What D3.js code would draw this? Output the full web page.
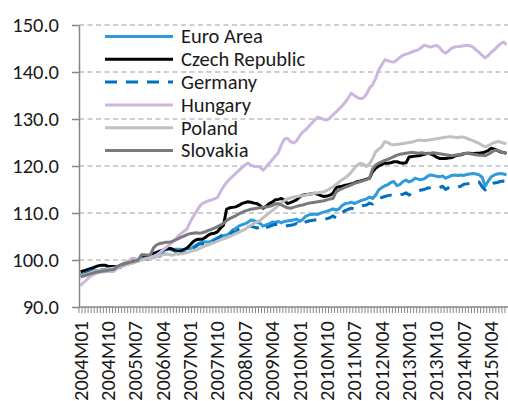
<!DOCTYPE html>
<html>
<head>
<meta charset="utf-8">
<script src="https://cdn.jsdelivr.net/npm/d3@7"></script>
<style>
  html, body { margin: 0; padding: 0; background: #fff; }
  svg { display: block; }
  text { font-family: Carlito, Calibri, Lato, sans-serif; fill: #1a1a1a; }
</style>
</head>
<body>
<div id="grafica"></div>
<script>
// Indices de precios, 2004M01 - 2015M09 (mensual)

const months = []
for (let yr = 2004; yr <= 2015; yr++) {
  for (let m = 1; m <= 12; m++) {
    if (yr === 2015 && m > 9) break
    months.push(yr + "M" + (m < 10 ? "0" + m : m))
  }
}

const tickLabels = ["2004M01","2004M10","2005M07","2006M04","2007M01","2007M10","2008M07","2009M04",
  "2010M01","2010M10","2011M07","2012M04","2013M01","2013M10","2014M07","2015M04"]

const yTicks = [90, 100, 110, 120, 130, 140, 150]

const seriesNames = ["Euro Area", "Czech Republic", "Germany", "Hungary", "Poland", "Slovakia"]

const euroArea = [
  96.8, 97.0, 97.3, 97.6, 97.8, 97.8, 97.7, 97.8, 98.0, 98.3, 98.3, 98.5,
  98.2, 98.5, 99.0, 99.4, 99.6, 99.8, 99.7, 99.9, 100.4, 100.7, 100.5, 100.8,
  100.5, 100.9, 101.3, 101.9, 102.2, 102.3, 102.1, 102.3, 102.3, 102.3, 102.2, 102.6,
  102.3, 102.7, 103.2, 103.6, 103.8, 103.9, 103.8, 104.0, 104.4, 104.7, 105.0, 105.2,
  105.3, 105.7, 106.4, 106.7, 107.2, 107.5, 107.7, 108.0, 108.5, 108.4, 108.0, 107.8,
  107.2, 107.5, 107.7, 108.1, 108.0, 108.2, 107.9, 108.2, 108.3, 108.4, 108.5, 108.7,
  108.2, 108.6, 109.3, 109.6, 109.7, 109.8, 109.7, 110.0, 110.2, 110.4, 110.6, 110.9,
  110.6, 110.9, 111.6, 112.0, 112.1, 112.3, 112.0, 112.3, 112.6, 112.8, 113.0, 113.4,
  113.1, 113.8, 114.9, 115.4, 115.8, 116.0, 116.5, 116.7, 115.8, 116.1, 116.7, 117.0,
  116.6, 116.9, 117.4, 117.2, 117.1, 117.3, 117.8, 118.1, 118.0, 117.8, 117.7, 117.9,
  117.4, 117.7, 118.0, 118.1, 118.0, 118.1, 118.0, 118.2, 118.3, 118.4, 118.3, 118.1,
  117.6, 115.7, 116.8, 117.7, 118.1, 118.3, 118.4, 118.3, 118.1
]

const czechRepublic = [
  97.5, 97.7, 97.9, 98.1, 98.3, 98.6, 98.8, 98.9, 98.9, 98.7, 98.6, 98.6,
  98.5, 98.8, 99.1, 99.4, 99.6, 99.8, 100.0, 100.1, 100.4, 100.6, 100.7, 100.9,
  101.4, 101.6, 101.9, 102.1, 102.3, 102.5, 102.4, 102.0, 101.8, 101.9, 102.2, 102.5,
  103.2, 103.9, 104.3, 104.4, 104.4, 104.8, 105.3, 105.6, 105.7, 106.0, 106.8, 107.4,
  110.8, 111.1, 111.2, 111.3, 111.6, 112.0, 112.2, 112.4, 112.3, 112.1, 112.0, 111.6,
  111.0, 111.4, 112.0, 112.3, 112.8, 112.9, 113.1, 112.7, 112.0, 112.2, 112.5, 112.8,
  113.4, 113.8, 113.9, 114.0, 114.1, 114.2, 114.0, 113.7, 113.5, 113.6, 113.8, 114.2,
  115.4, 115.6, 115.7, 115.9, 116.0, 116.2, 116.4, 116.7, 116.8, 117.0, 117.2, 117.4,
  118.8, 119.5, 120.0, 120.3, 120.6, 120.6, 120.7, 120.9, 120.9, 120.7, 120.6, 120.7,
  121.9, 122.0, 122.1, 122.2, 122.3, 122.5, 122.7, 122.6, 122.3, 121.9, 121.6, 121.6,
  121.6, 121.7, 121.8, 122.1, 122.3, 122.4, 122.6, 122.7, 122.7, 122.6, 122.7, 122.7,
  122.8, 123.0, 123.3, 123.8, 123.6, 123.3, 123.0, 122.9, 122.7
]

const germany = [
  96.7, 97.0, 97.2, 97.6, 97.8, 97.7, 97.9, 97.9, 97.8, 98.1, 98.0, 98.5,
  98.0, 98.5, 98.8, 99.1, 99.2, 99.4, 99.8, 99.8, 100.3, 100.3, 100.1, 100.9,
  100.4, 100.8, 100.8, 101.3, 101.3, 101.5, 101.8, 101.6, 101.3, 101.4, 101.6, 102.3,
  102.2, 102.6, 102.9, 103.4, 103.4, 103.6, 104.0, 104.0, 104.1, 104.5, 105.0, 105.5,
  105.0, 105.4, 106.0, 105.9, 106.5, 106.8, 107.3, 107.1, 107.2, 107.0, 106.8, 107.0,
  106.4, 106.9, 107.1, 107.4, 107.6, 107.5, 107.2, 107.1, 107.3, 107.4, 107.5, 107.8,
  107.3, 107.7, 108.1, 108.3, 108.4, 108.5, 108.6, 108.7, 108.7, 108.8, 109.0, 109.4,
  108.9, 109.5, 110.1, 110.5, 110.8, 111.0, 110.9, 111.2, 111.4, 111.6, 111.7, 112.1,
  111.9, 112.5, 113.0, 113.3, 113.5, 113.7, 113.8, 113.7, 113.7, 113.9, 114.0, 114.3,
  113.8, 114.3, 114.6, 114.7, 114.9, 115.0, 115.3, 115.3, 115.2, 115.3, 115.4, 115.7,
  115.0, 115.4, 115.6, 115.6, 115.5, 115.7, 116.1, 116.2, 116.3, 116.4, 116.4, 116.6,
  115.6, 114.9, 115.7, 116.1, 116.4, 116.5, 116.7, 116.8, 116.7
]

const hungary = [
  94.5, 95.2, 95.8, 96.4, 96.8, 97.1, 97.3, 97.5, 97.5, 97.6, 97.5, 97.6,
  98.2, 98.6, 98.9, 99.4, 99.9, 100.4, 100.3, 100.1, 100.0, 100.2, 100.4, 100.6,
  100.8, 101.1, 101.5, 102.1, 102.6, 103.1, 103.8, 104.3, 105.0, 105.6, 106.1, 106.6,
  108.0, 109.2, 110.2, 111.3, 112.0, 112.3, 112.6, 112.8, 113.0, 113.3, 114.5, 115.6,
  116.5, 117.2, 117.8, 118.4, 119.0, 119.6, 120.2, 120.6, 120.2, 119.9, 119.9, 119.8,
  119.1, 119.8, 120.6, 121.3, 122.1, 122.8, 124.5, 125.7, 125.9, 125.2, 124.9, 125.3,
  126.4, 127.2, 127.7, 128.4, 129.1, 129.8, 130.4, 130.2, 129.9, 129.8, 130.2, 130.9,
  131.5, 132.2, 132.8, 133.6, 134.5, 135.5, 135.0, 134.6, 134.3, 134.5, 135.3, 136.6,
  137.3, 138.6, 140.4, 141.5, 142.6, 142.4, 142.2, 142.1, 142.6, 143.1, 143.6, 143.8,
  144.0, 144.3, 144.5, 144.7, 145.2, 145.7, 145.5, 145.3, 145.5, 145.7, 145.2, 144.4,
  144.0, 144.5, 145.1, 145.3, 145.4, 145.5, 145.6, 145.7, 145.6, 145.3, 144.7, 144.2,
  143.5, 143.0, 143.5, 144.2, 144.7, 145.4, 146.0, 146.4, 145.8
]

const poland = [
  96.6, 96.8, 97.0, 97.2, 97.5, 97.7, 97.7, 97.8, 97.9, 98.1, 98.2, 98.3,
  98.4, 98.6, 98.8, 99.0, 99.2, 99.3, 99.5, 99.8, 100.0, 100.2, 100.2, 100.3,
  100.5, 100.7, 100.9, 101.1, 101.2, 101.2, 101.0, 101.2, 101.4, 101.3, 101.4, 101.6,
  101.8, 102.0, 102.1, 102.4, 102.7, 103.0, 103.2, 103.5, 103.7, 104.0, 104.3, 104.5,
  104.7, 105.0, 105.3, 105.6, 105.9, 106.2, 106.5, 107.0, 107.4, 107.8, 108.1, 108.4,
  109.0, 109.5, 110.0, 110.5, 111.0, 111.6, 112.2, 112.6, 113.0, 113.2, 113.4, 113.5,
  113.6, 113.7, 113.8, 114.0, 114.1, 114.2, 114.3, 114.4, 114.5, 114.8, 115.2, 115.6,
  116.1, 116.6, 117.1, 117.5, 118.0, 118.7, 119.5, 120.2, 120.6, 120.4, 119.9, 120.5,
  121.6, 123.0, 123.6, 124.1, 125.2, 125.0, 124.6, 124.5, 124.6, 124.7, 124.8, 124.9,
  125.0, 125.1, 125.3, 125.5, 125.5, 125.4, 125.5, 125.6, 125.7, 125.8, 125.9, 126.0,
  126.1, 126.2, 126.2, 126.1, 126.0, 126.2, 126.1, 125.9, 125.6, 125.4, 125.1, 124.8,
  124.4, 124.1, 124.3, 124.7, 125.0, 125.2, 125.1, 124.9, 124.8
]

const slovakia = [
  96.4, 96.6, 96.8, 97.0, 97.2, 97.4, 97.5, 97.6, 97.7, 97.8, 97.9, 98.0,
  98.6, 98.9, 99.1, 99.3, 99.5, 99.6, 99.8, 100.0, 101.1, 101.1, 101.0, 101.2,
  102.6, 103.2, 103.5, 103.6, 103.8, 103.8, 103.9, 104.2, 104.5, 104.8, 105.1, 105.4,
  105.6, 105.7, 105.8, 105.7, 105.8, 106.0, 106.3, 106.5, 106.8, 107.1, 107.4, 107.8,
  108.4, 108.8, 109.1, 109.4, 109.8, 110.1, 110.4, 110.6, 110.8, 110.9, 111.0, 111.1,
  111.2, 111.3, 111.4, 111.6, 111.9, 112.0, 111.7, 111.4, 111.1, 111.0, 111.2, 111.4,
  111.6, 111.7, 111.9, 112.1, 112.2, 112.3, 112.4, 112.5, 112.6, 112.8, 113.0, 113.1,
  114.5, 114.9, 115.2, 115.5, 115.7, 116.0, 116.3, 116.5, 116.7, 116.9, 117.1, 117.4,
  119.4, 120.2, 120.6, 120.9, 121.2, 121.4, 121.7, 122.0, 122.3, 122.5, 122.6, 122.7,
  122.8, 122.9, 122.8, 122.7, 122.8, 122.7, 122.6, 122.7, 122.8, 122.7, 122.6, 122.5,
  122.4, 122.3, 122.2, 122.3, 122.4, 122.5, 122.6, 122.7, 122.6, 122.5, 122.4, 122.3,
  122.3, 122.2, 122.5, 122.9, 123.3, 123.4, 123.1, 122.8, 122.7
]

const seriesValues = [euroArea, czechRepublic, germany, hungary, poland, slovakia]
const seriesColors = ["#2f9bdb", "#000000", "#0070c0", "#cdb6de", "#c0c0c0", "#7a7a7a"]
const seriesDash = [null, null, "12,9", null, null, null]

// Tamaño de la gráfica
const width = 508
const height = 401
const plotLeft = 79, plotRight = 508, plotTop = 25, plotBottom = 307
const fontSize = "20.5px"

const x = d3.scaleBand().domain(months).range([plotLeft, plotRight]).padding(0)
const bw = x.bandwidth()
const y = d3.scaleLinear().domain([90, 150]).range([plotBottom, plotTop])

const svg = d3.select("#grafica")
  .append("svg")
  .attr("width", width)
  .attr("height", height)

// lineas de cuadricula
svg.append("g")
  .selectAll("line")
  .data(yTicks.filter(d => d > 90))
  .enter()
  .append("line")
  .attr("x1", plotLeft)
  .attr("x2", plotRight)
  .attr("y1", d => y(d))
  .attr("y2", d => y(d))
  .attr("stroke", "#bfbfbf")
  .attr("stroke-width", 1.3)
  .attr("stroke-dasharray", "5,3.5")

// series
const line = d3.line()
  .x((d, i) => x(months[i]) + bw / 2)
  .y(d => y(d))

svg.append("g")
  .selectAll("path")
  .data(seriesValues)
  .enter()
  .append("path")
  .attr("d", d => line(d))
  .attr("fill", "none")
  .attr("stroke", (d, i) => seriesColors[i])
  .attr("stroke-width", 3)
  .attr("stroke-linejoin", "round")
  .attr("stroke-dasharray", (d, i) => seriesDash[i])

// eje y
const yAxis = svg.append("g")
  .attr("transform", "translate(" + plotLeft + ",0)")
  .call(d3.axisLeft(y).tickValues(yTicks).tickSize(7).tickSizeOuter(0).tickPadding(13)
    .tickFormat(d3.format(".1f")))
yAxis.selectAll("path, line").attr("stroke", "#868686").attr("stroke-width", 1.5)
yAxis.selectAll("text").style("font-size", fontSize).style("fill", "#1a1a1a")

// marcas del eje x (una por mes, en el borde de cada categoria)
const xTicks = svg.append("g")
  .attr("transform", "translate(" + (-bw / 2) + "," + plotBottom + ")")
  .call(d3.axisBottom(x).tickSize(6).tickSizeOuter(0).tickFormat(""))
xTicks.selectAll("line").attr("stroke", "#868686").attr("stroke-width", 1)
xTicks.select("path").remove()

svg.append("line")
  .attr("x1", plotLeft).attr("x2", plotRight)
  .attr("y1", plotBottom).attr("y2", plotBottom)
  .attr("stroke", "#868686").attr("stroke-width", 1.5)

// etiquetas del eje x
const xLabels = svg.append("g")
  .attr("transform", "translate(0," + plotBottom + ")")
  .call(d3.axisBottom(x).tickValues(tickLabels).tickSize(0))
xLabels.select("path").remove()
xLabels.selectAll("text")
  .attr("transform", "rotate(-90)")
  .attr("text-anchor", "end")
  .attr("x", -14)
  .attr("y", 0)
  .attr("dy", "0.34em")
  .style("font-size", fontSize)
  .style("fill", "#1a1a1a")

// leyenda
const legend = svg.append("g")
  .selectAll("g")
  .data(seriesNames)
  .enter()
  .append("g")
  .attr("transform", (d, i) => "translate(105," + (36.5 + i * 22.8) + ")")

legend.append("line")
  .attr("x1", 0).attr("x2", 68)
  .attr("stroke", (d, i) => seriesColors[i])
  .attr("stroke-width", 3)
  .attr("stroke-dasharray", (d, i) => seriesDash[i])

legend.append("text")
  .attr("x", 76)
  .attr("dy", "0.34em")
  .style("font-size", fontSize)
  .text(d => d)
</script>
</body>
</html>
